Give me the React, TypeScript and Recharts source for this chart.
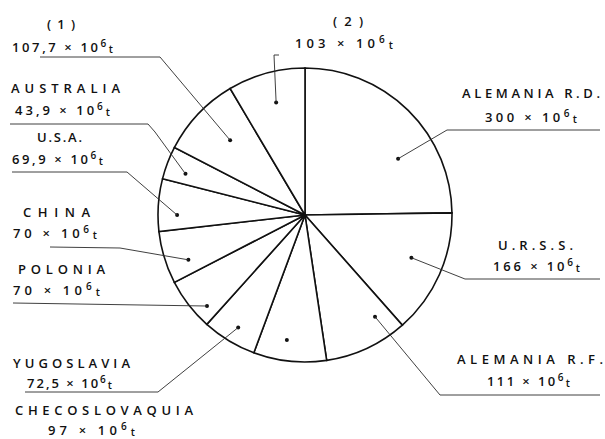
import * as React from "react";
import { Pie, PieChart, Cell } from "recharts";

/* datos: producción de lignito, en millones de toneladas */
const countries = [
  "ALEMANIA R.D.",
  "U.R.S.S.",
  "ALEMANIA R.F.",
  "CHECOSLOVAQUIA",
  "YUGOSLAVIA",
  "POLONIA",
  "CHINA",
  "U.S.A.",
  "AUSTRALIA",
  "(1)",
  "(2)",
];
const tonnes = [300, 166, 111, 97, 72.5, 70, 70, 69.9, 43.9, 107.7, 103];

const data = countries.map((name, i) => ({ name, value: tonnes[i] }));

/* posición de rótulos: [x, yBase, ancho] para nombre y valor, y guía */
type Layout = {
  name: [number, number, number];
  value: [number, number, number];
  dot: [number, number]; // fracción angular dentro del sector, fracción de radio
  path: [number, number][];
};

const layout: Layout[] = [
  { name: [462, 98, 138], value: [485, 122, 92], dot: [0.66, 0.74], path: [[447, 130], [600, 130]] },
  { name: [498, 250, 75], value: [493, 271, 87], dot: [0.46, 0.78], path: [[465, 279], [600, 279]] },
  { name: [457, 364, 146], value: [487, 386, 83], dot: [0.21, 0.84], path: [[440, 395], [600, 395]] },
  { name: [15, 415, 178], value: [48, 435, 87], dot: [0.58, 0.86], path: [] },
  { name: [13, 368, 117], value: [27, 388, 85], dot: [0.48, 0.89], path: [[158, 392], [25, 392]] },
  { name: [18, 274, 87], value: [13, 295, 87], dot: [0.25, 0.91], path: [[13, 303]] },
  { name: [23, 217, 67], value: [13, 238, 84], dot: [0.3, 0.85], path: [[120, 248], [50, 247]] },
  { name: [37, 142, 45], value: [12, 164, 91], dot: [0.31, 0.87], path: [[127, 172], [12, 172]] },
  { name: [11, 93, 109], value: [15, 115, 95], dot: [0.36, 0.86], path: [[155, 132], [148, 124], [10, 124]] },
  { name: [47, 29, 28], value: [12, 52, 101], dot: [0.55, 0.72], path: [[160, 57], [40, 57]] },
  { name: [333, 26, 30], value: [295, 48, 98], dot: [0.53, 0.79], path: [[274, 55], [279, 55]] },
];

const RAD = Math.PI / 180;
const ink = "#111";
const font = "'Open Sans', 'DejaVu Sans', sans-serif";

function fmt(v: number) {
  return String(v).replace(".", ",");
}

function renderLabel(props: any) {
  const { cx, cy, outerRadius, startAngle, endAngle, index, value } = props;
  const l = layout[index];
  const ang = startAngle + l.dot[0] * (endAngle - startAngle);
  const r = outerRadius * l.dot[1];
  const dx = cx + r * Math.cos(-ang * RAD);
  const dy = cy + r * Math.sin(-ang * RAD);
  const pts = [[dx, dy], ...l.path].map((p) => p.join(",")).join(" ");
  return (
    <g key={`lbl-${index}`}>
      <circle cx={dx} cy={dy} r={2} fill={ink} />
      {l.path.length > 0 && (
        <polyline points={pts} fill="none" stroke="#2a2a2a" strokeWidth={0.9} />
      )}
      <text
        x={l.name[0]}
        y={l.name[1]}
        textLength={l.name[2]}
        lengthAdjust="spacing"
        fontFamily={font}
        fontSize={13}
        fontWeight={600}
        fill={ink}
      >
        {countries[index]}
      </text>
      <text
        x={l.value[0]}
        y={l.value[1]}
        textLength={l.value[2]}
        lengthAdjust="spacing"
        fontFamily={font}
        fontSize={13}
        fontWeight={600}
        fill={ink}
      >
        {fmt(value)} × 10
        <tspan dy={-5} fontSize={10}>6</tspan>
        <tspan dy={6} fontSize={10.5}>t</tspan>
      </text>
    </g>
  );
}

export default function App() {
  return (
    <div style={{ position: "absolute", left: 0, top: 0, width: 605, height: 439, background: "#fff" }}>
      <PieChart width={605} height={439} margin={{ top: 0, right: 0, bottom: 0, left: 0 }}>
        <Pie
          data={data}
          dataKey="value"
          nameKey="name"
          cx={305}
          cy={215}
          innerRadius={0}
          outerRadius={147}
          startAngle={90}
          endAngle={-270}
          stroke={ink}
          strokeWidth={1.6}
          label={renderLabel}
          labelLine={false}
          isAnimationActive={false}
        >
          {data.map((d) => (
            <Cell key={d.name} fill="#fff" />
          ))}
        </Pie>
      </PieChart>
    </div>
  );
}
